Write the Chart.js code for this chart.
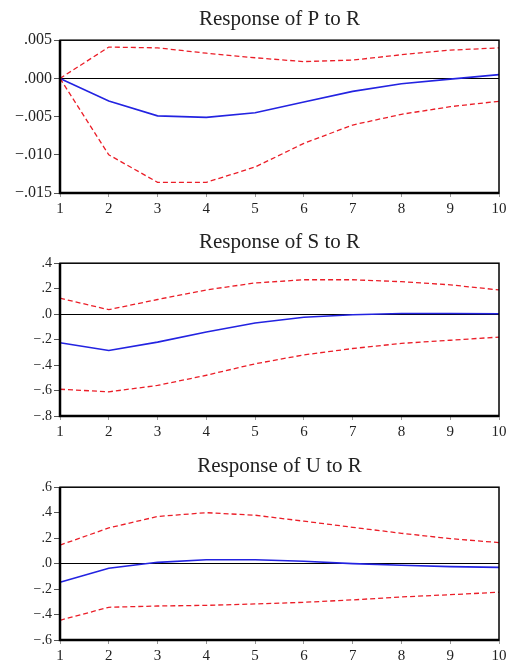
<!DOCTYPE html>
<html>
<head>
<meta charset="utf-8">
<script src="https://cdn.jsdelivr.net/npm/chart.js@4.4.1/dist/chart.umd.min.js"></script>
<style>
  html, body { margin: 0; padding: 0; background: #fff; overflow: hidden; }
  .box { position: absolute; left: 0; width: 506px; height: 220px; }
</style>
</head>
<body>
<div class="box" style="top:0px"><canvas id="c1" width="506" height="220"></canvas></div>
<div class="box" style="top:223px"><canvas id="c2" width="506" height="220"></canvas></div>
<div class="box" style="top:447px"><canvas id="c3" width="506" height="220"></canvas></div>
<script>
// horizon labels
var periods = ['1','2','3','4','5','6','7','8','9','10']

// Response of P to R
var pResp  = [0, -0.00295, -0.0049, -0.0051, -0.0045, -0.0031, -0.0017, -0.0007, -0.0001, 0.0005]
var pUpper = [0, 0.0041, 0.0040, 0.0033, 0.0027, 0.0022, 0.0024, 0.0031, 0.0037, 0.0040]
var pLower = [0, -0.0100, -0.0136, -0.0136, -0.0116, -0.0085, -0.0061, -0.0047, -0.0037, -0.0030]

// Response of S to R
var sResp  = [-0.225, -0.285, -0.22, -0.14, -0.07, -0.025, -0.005, 0.005, 0.005, 0.003]
var sUpper = [0.125, 0.035, 0.115, 0.19, 0.245, 0.27, 0.27, 0.255, 0.23, 0.19]
var sLower = [-0.59, -0.61, -0.56, -0.48, -0.39, -0.32, -0.27, -0.23, -0.205, -0.18]

// Response of U to R
var uResp  = [-0.147, -0.037, 0.01, 0.03, 0.03, 0.018, 0, -0.013, -0.024, -0.03]
var uUpper = [0.145, 0.28, 0.37, 0.40, 0.38, 0.333, 0.285, 0.238, 0.196, 0.165]
var uLower = [-0.445, -0.343, -0.333, -0.328, -0.317, -0.304, -0.285, -0.262, -0.244, -0.225]

var serif = "'Liberation Serif', 'Times New Roman', serif"

//Rahmen um die Zeichenfläche
var framePlugin = {
    id: 'frame',
    afterDraw: function(chart) {
        var a = chart.chartArea
        var ctx = chart.ctx
        ctx.save()
        ctx.strokeStyle = '#000'
        ctx.lineWidth = 1.5
        ctx.strokeRect(a.left, a.top, a.right - a.left, a.bottom - a.top)
        ctx.lineWidth = 2.5
        ctx.beginPath()
        ctx.moveTo(a.left, a.top)
        ctx.lineTo(a.left, a.bottom)
        ctx.lineTo(a.right, a.bottom)
        ctx.stroke()
        ctx.restore()
    }
}

function fmt(decimals) {
    return function(value) {
        var s = Math.abs(value).toFixed(decimals).replace(/^0/, '')
        if (value < -1e-9) s = '\u2212' + s
        return s
    }
}

function makeChart(id, title, resp, upper, lower, min, max, step, decimals, ySize) {
    var ctx = document.getElementById(id).getContext('2d')
    var data = {
        labels: periods,
        datasets: [
            {
                data: upper,
                borderColor: 'rgb(235,30,40)',
                borderWidth: 1.3,
                borderDash: [5, 3],
                pointRadius: 0,
                tension: 0,
                fill: false
            },
            {
                data: lower,
                borderColor: 'rgb(235,30,40)',
                borderWidth: 1.3,
                borderDash: [5, 3],
                pointRadius: 0,
                tension: 0,
                fill: false
            },
            {
                data: resp,
                borderColor: 'rgb(35,35,225)',
                borderWidth: 1.6,
                pointRadius: 0,
                tension: 0,
                fill: false
            }
        ]
    }
    var config = {
        type: 'line',
        data: data,
        options: {
            responsive: false,
            animation: false,
            layout: { padding: { left: 0, right: 7, top: 0, bottom: 0 } },
            plugins: {
                legend: { display: false },
                tooltip: { enabled: false },
                title: {
                    display: true,
                    text: title,
                    fullSize: false,
                    color: '#222',
                    font: { family: serif, size: 21, weight: 'normal', lineHeight: 1.2 },
                    padding: { top: 7, bottom: 8 }
                }
            },
            scales: {
                x: {
                    offset: false,
                    grid: { drawOnChartArea: false, tickLength: 4, tickColor: '#999' },
                    border: { display: false },
                    ticks: { color: '#222', padding: 3, maxRotation: 0, autoSkip: false,
                             font: { family: serif, size: 15 } },
                    afterFit: function(scale) {
                        scale.height = 27
                        scale.paddingLeft = 0
                        scale.paddingRight = 0
                    }
                },
                y: {
                    min: min,
                    max: max,
                    grid: {
                        color: function(c) { return Math.abs(c.tick.value) < 1e-9 ? '#000' : 'rgba(0,0,0,0)' },
                        lineWidth: 1,
                        tickLength: 6,
                        tickColor: '#555'
                    },
                    border: { display: false },
                    ticks: {
                        stepSize: step,
                        color: '#222',
                        padding: 2,
                        font: { family: serif, size: ySize },
                        callback: fmt(decimals)
                    },
                    afterFit: function(scale) {
                        scale.width = 60
                        scale.paddingTop = 0
                        scale.paddingBottom = 0
                    }
                }
            }
        },
        plugins: [framePlugin]
    }
    return new Chart(ctx, config)
}

makeChart('c1', 'Response of P to R', pResp, pUpper, pLower, -0.015, 0.005, 0.005, 3, 16)
makeChart('c2', 'Response of S to R', sResp, sUpper, sLower, -0.8, 0.4, 0.2, 1, 14)
makeChart('c3', 'Response of U to R', uResp, uUpper, uLower, -0.6, 0.6, 0.2, 1, 14)
</script>
</body>
</html>
